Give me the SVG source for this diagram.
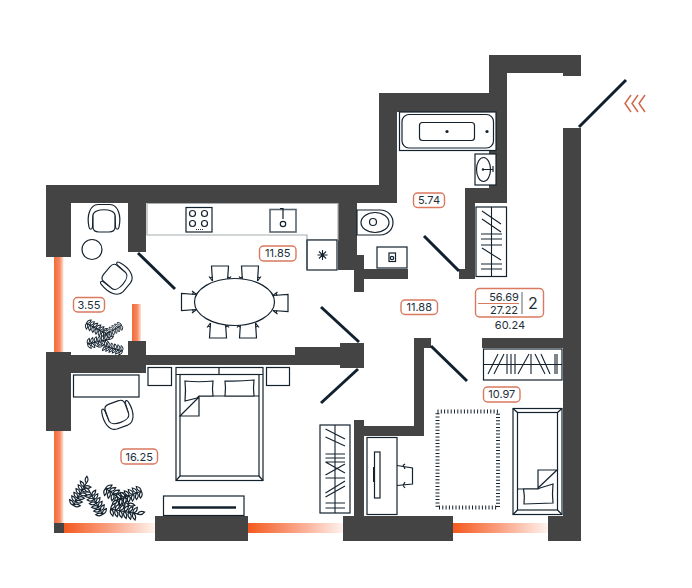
<svg xmlns="http://www.w3.org/2000/svg" xmlns:xlink="http://www.w3.org/1999/xlink" width="692" height="588" viewBox="0 0 692 588">
<style>
.wall{fill:#444444}
.ln{fill:#fff;stroke:#14222e;stroke-width:1.2}
.no{fill:none;stroke:#14222e;stroke-width:1.2}
.hang{fill:none;stroke:#14222e;stroke-width:1.1}
.door{stroke:#10202e;stroke-width:3;fill:none}
.tag{fill:#fff;stroke:#d9795f;stroke-width:1.4}
.t{font-family:"Inter","Liberation Sans",sans-serif;font-size:11px;fill:#22303a;text-anchor:middle}
.gray{fill:#fff;stroke:#a8adb0;stroke-width:1.2}
</style>
<defs>
<linearGradient id="gv" x1="0" x2="1" y1="0" y2="0"><stop offset="0" stop-color="#f4693a"/><stop offset="0.6" stop-color="#f78a63"/><stop offset="1" stop-color="#fde3d8"/></linearGradient>
<linearGradient id="gh" x1="0" x2="1" y1="0" y2="0"><stop offset="0" stop-color="#f4591f"/><stop offset="0.5" stop-color="#f9a283"/><stop offset="1" stop-color="#fff3ee"/></linearGradient>
<g id="chair"><path class="ln" d="M-7.500 15L-8.500 0H8.500L7.500 15"/><path class="no" d="M-7.500 15L-11 10.500M7.500 15L11 10.500M-7.500 11L-10 12M7.500 11L10 12"/></g>
<g id="arm"><path class="ln" d="M-15 9C-17.500 -3 -14 -13 -6 -13.500H6C14 -13 17.500 -3 15 9C14.500 12 12 12 11.500 9L11 -2C10 -8 -10 -8 -11 -2L-11.500 9C-12 12 -14.500 12 -15 9Z"/><path class="ln" d="M-11 -3C-10 -10 10 -10 11 -3L11 9C11 13 8 14 5 14H-5C-8 14 -11 13 -11 9Z"/></g>
<path id="leaf" class="ln" d="M0 0C1 -3 3.500 -3.500 6.500 -3C5.500 -1 3 .8 0 0Z"/>
<g id="branch"><path class="no" d="M0 0L30 0"/>
<use xlink:href="#leaf" transform="translate(1 0) rotate(-40)"/><use xlink:href="#leaf" transform="translate(1 0) rotate(40) scale(1 -1)"/>
<use xlink:href="#leaf" transform="translate(5.500 0) rotate(-40)"/><use xlink:href="#leaf" transform="translate(5.500 0) rotate(40) scale(1 -1)"/>
<use xlink:href="#leaf" transform="translate(10 0) rotate(-40)"/><use xlink:href="#leaf" transform="translate(10 0) rotate(40) scale(1 -1)"/>
<use xlink:href="#leaf" transform="translate(14.500 0) rotate(-40)"/><use xlink:href="#leaf" transform="translate(14.500 0) rotate(40) scale(1 -1)"/>
<use xlink:href="#leaf" transform="translate(19 0) rotate(-40)"/><use xlink:href="#leaf" transform="translate(19 0) rotate(40) scale(1 -1)"/>
<use xlink:href="#leaf" transform="translate(23.500 0) rotate(-40)"/><use xlink:href="#leaf" transform="translate(23.500 0) rotate(40) scale(1 -1)"/>
<use xlink:href="#leaf" transform="translate(28 0)"/></g>
</defs>
<rect width="692" height="588" fill="#fff"/>

<g id="glazing">
<rect x="54" y="257" width="9.500" height="95" fill="url(#gv)"/>
<rect x="54" y="431" width="9.500" height="92" fill="url(#gv)"/>
<rect x="132" y="304" width="9" height="37" fill="url(#gv)"/>
<rect x="64" y="523" width="91" height="10" fill="url(#gh)"/>
<rect x="248" y="523" width="96" height="10" fill="url(#gh)"/>
<rect x="453" y="523" width="95" height="10" fill="url(#gh)"/>
</g>

<g id="walls">
<path class="wall" d="M46 185H379V93H489V55H581V76H563V73H507V203H475V279H459V269H465V188H489V112H397V203H357V255H364V269H408V279H364V292H354V270H338V203H146V252H128V203H71V257H46Z"/>
<path class="wall" d="M46 352H71V355H128V341H146V355H295V347H340V343H364V368H340V365H146V373H71V431H46Z"/>
<rect class="wall" x="54" y="523" width="10" height="10"/>
<path class="wall" d="M563 128H581V541H548V516H563Z"/>
<rect class="wall" x="155" y="516" width="93" height="25"/>
<path class="wall" d="M343 516H354V420H364V426H414V338H431V348H424V436H364V516H453V541H343Z"/>
<rect class="wall" x="482" y="338" width="81" height="10"/>
</g>

<g id="connectors">
<path class="door" d="M138 253L175 289"/>
<path class="door" d="M321 307L359 342"/>
<path class="door" d="M321 403L358 369"/>
<path class="door" d="M424 236L459 271"/>
<path class="door" d="M579 127L626 80"/>
<path class="door" d="M431 346L467 381"/>
</g>

<g id="entry-arrows" fill="none" stroke="#d0694c" stroke-width="1.500">
<path d="M631 95L625 103.500L631 112M638 95L632 103.500L638 112M645 95L639 103.500L645 112"/>
</g>

<g id="kitchen">
<path class="gray" d="M147 203.500H338V240H307V235H147Z"/>
<rect class="ln" x="186" y="207.500" width="26" height="24.500"/>
<g class="no"><circle cx="192.500" cy="213.500" r="3"/><circle cx="204.500" cy="213.500" r="3"/><circle cx="192.500" cy="223.500" r="3"/><circle cx="204.500" cy="223.500" r="3"/></g>
<path d="M196 229.500H203" stroke="#14222e" stroke-dasharray="1 1" fill="none"/>
<rect x="270" y="209.500" width="26" height="22.500" fill="#fff" stroke="#5a666e" stroke-width="1.600"/>
<circle class="no" cx="283" cy="224" r="2.700"/>
<path class="no" stroke-width="1.800" d="M280 208.500H283V219"/>
<rect class="ln" x="307" y="240" width="30" height="30"/>
<path d="M307 240V270" stroke="#4a5a66" stroke-width="1.500"/>
<path class="hang" stroke-width="0.900" d="M322.500 250V260M317.500 255H327.500M319 251.500L326 258.500M326 251.500L319 258.500"/>
</g>

<g id="dining">
<use xlink:href="#chair" transform="translate(220 266)"/>
<use xlink:href="#chair" transform="translate(250 266)"/>
<use xlink:href="#chair" transform="translate(218 338) rotate(180)"/>
<use xlink:href="#chair" transform="translate(248 338) rotate(180)"/>
<use xlink:href="#chair" transform="translate(181.500 302) rotate(-90)"/>
<use xlink:href="#chair" transform="translate(288 303) rotate(90)"/>
<ellipse class="ln" cx="234.500" cy="302" rx="40" ry="23.500"/>
</g>

<g id="balcony">
<use xlink:href="#arm" transform="translate(104 218)"/>
<circle class="ln" cx="92" cy="249.500" r="10"/>
<use xlink:href="#arm" transform="translate(117 279) rotate(130) scale(.95)"/>
<use xlink:href="#branch" transform="translate(86 323) rotate(28) scale(.8)"/>
<use xlink:href="#branch" transform="translate(122 325) rotate(150) scale(.7)"/>
<use xlink:href="#branch" transform="translate(87 344) rotate(-12) scale(.8)"/>
<use xlink:href="#branch" transform="translate(123 351) rotate(-165) scale(.75)"/>
</g>

<g id="bedroom">
<rect class="ln" x="73.500" y="375" width="65.500" height="22"/>
<use xlink:href="#arm" transform="translate(118 415) rotate(160) scale(.95)"/>
<rect class="ln" x="148" y="367.500" width="23.500" height="18"/>
<rect class="ln" x="266.500" y="367.500" width="23" height="18"/>
<rect class="ln" x="176" y="367.500" width="87" height="113"/>
<path class="no" d="M176 374.500H263M219 367.500V374.500"/>
<rect class="ln" x="180" y="374.500" width="79" height="101.500"/>
<path class="no" d="M176 480.500L180 476M263 480.500L259 476M199 396H259"/>
<path class="ln" d="M185 381Q199 382.500 213 381Q212 389 213 396L199 396L197 398L185 401Q186 390 185 381Z"/>
<path class="ln" d="M225 381Q240 381.500 254 380Q253 388 254 396H225Q226 388 225 381Z"/>
<path class="ln" d="M199 397V416H180Z"/>
<rect class="ln" x="163.500" y="496" width="80.500" height="19.500"/>
<path d="M172 507.500H236" stroke="#14222e" stroke-width="2.500"/>
<rect class="ln" x="320" y="425" width="30" height="88"/>
<path class="hang" d="M335 425V513M325.500 429L345 439M325.500 437L345 446M325.500 454H345M325.500 458H345M325.500 462H345M325.500 475L345 464M325.500 462L345 473M325.500 478H345M325.500 493L345 481M325.500 497L345 486M325.500 503H345M325.500 508H345"/>
<use xlink:href="#branch" transform="translate(73 506) rotate(-60) scale(.95)"/>
<use xlink:href="#branch" transform="translate(103 515) rotate(-120) scale(.95)"/>
<use xlink:href="#branch" transform="translate(105 488) rotate(35)"/>
<use xlink:href="#branch" transform="translate(142 491) rotate(160) scale(.95)"/>
<use xlink:href="#branch" transform="translate(110 509) rotate(10)"/>
</g>

<g id="bathroom">
<rect class="ln" x="399.500" y="112" width="96.500" height="38.500"/>
<rect class="ln" x="402" y="114.500" width="91.500" height="33.500" rx="7"/>
<rect class="ln" x="419.500" y="122.500" width="55" height="18" rx="3"/>
<circle cx="447" cy="131.500" r="1.600" fill="#14222e"/>
<circle cx="487" cy="131.500" r="1.600" fill="#14222e"/>
<rect class="ln" x="475" y="154" width="21" height="31"/>
<ellipse class="ln" cx="483.500" cy="169.500" rx="7" ry="12"/>
<path class="no" d="M483 169.500H493M493 166V172"/><circle cx="483" cy="169.500" r="1.200" fill="#14222e"/>
<rect class="ln" x="476" y="207" width="30.500" height="69.500"/>
<path class="hang" d="M491.500 207V276.500M482 211L501 224M482 219L501 232M481 234H502M481 239H502M481 245H502M482 248L501 260M481 264H502M481 269H502"/>
<path class="ln" d="M357 210H380C388 210 393 216 393 222.500C393 229 388 235 380 235H357Z"/>
<ellipse class="no" cx="375" cy="222.500" rx="14" ry="10"/>
<circle class="no" cx="373" cy="222" r="3.500"/>
<rect class="ln" x="377" y="247" width="30" height="21"/>
<rect class="no" x="389" y="253" width="6.500" height="8.500"/><circle class="no" cx="392" cy="258" r="1.700"/>
</g>

<g id="room2">
<rect class="ln" x="483.500" y="349" width="78.500" height="31"/>
<path class="hang" d="M483.500 364.500H562M488 374L498 354M494 374L504 354M507 354V374M511 354V374M515 354V374M518 374L529 354M531 354V374M535 354L545 374M541 354L550 374M555 354V374M557 354V374"/>
<rect x="437.500" y="411.500" width="60.500" height="96" fill="#fff" stroke="#14222e" stroke-width="4" stroke-dasharray="1 2.300"/>
<rect class="ln" x="513" y="408.500" width="49" height="106"/>
<rect class="ln" x="517.500" y="412.500" width="40" height="97.500"/>
<path class="no" d="M513 408.500L517.500 412.500M562 408.500L557.500 412.500M513 514.500L517.500 510M562 514.500L557.500 510M517.500 489H538"/>
<path class="ln" d="M523.500 489L538 489L540 488L553 484Q552 494 553 503L524 504Q525 496 523.500 489Z"/>
<path class="ln" d="M538 470H557L538 488Z"/>
<rect class="ln" x="367" y="437.500" width="30" height="77"/>
<rect class="ln" stroke-width="1.500" x="374.500" y="452" width="5.500" height="46"/>
<rect x="373" y="467" width="1.500" height="15" fill="#14222e"/>
<path class="no" d="M397 465.500L412.500 468L412.500 484L397 485.500M403 465.500L405 464M403 465.500L405 469M403 485.500L405 482M403 485.500L405 488"/>
</g>

<g id="labels">
<rect class="tag" x="259.500" y="246" width="36.500" height="15" rx="4"/><text class="t" x="277.800" y="257.400">11.85</text>
<rect class="tag" x="73.500" y="297.500" width="31" height="14.500" rx="4"/><text class="t" x="89" y="308.700">3.55</text>
<rect class="tag" x="121" y="449" width="36.500" height="15" rx="4"/><text class="t" x="139.200" y="460.500">16.25</text>
<rect class="tag" x="413.500" y="193" width="31" height="14.500" rx="4"/><text class="t" x="429" y="204.400">5.74</text>
<rect class="tag" x="401" y="300" width="36.500" height="14.500" rx="4"/><text class="t" x="419.200" y="311.400">11.88</text>
<rect class="tag" x="483.500" y="387" width="36.500" height="15" rx="4"/><text class="t" x="501.800" y="398.400">10.97</text>
<rect class="tag" x="475.500" y="288.500" width="68" height="28.500" rx="4"/>
<path d="M478 303.500H519" stroke="#d9795f" stroke-width="1" fill="none"/>
<path d="M522 292V314" stroke="#5a666e" stroke-width="1" fill="none"/>
<text class="t" x="504" y="300.500">56.69</text>
<text class="t" x="504" y="314">27.22</text>
<text class="t" x="533" y="309" style="font-size:16px">2</text>
<text class="t" x="510" y="329">60.24</text>
</g>
</svg>
